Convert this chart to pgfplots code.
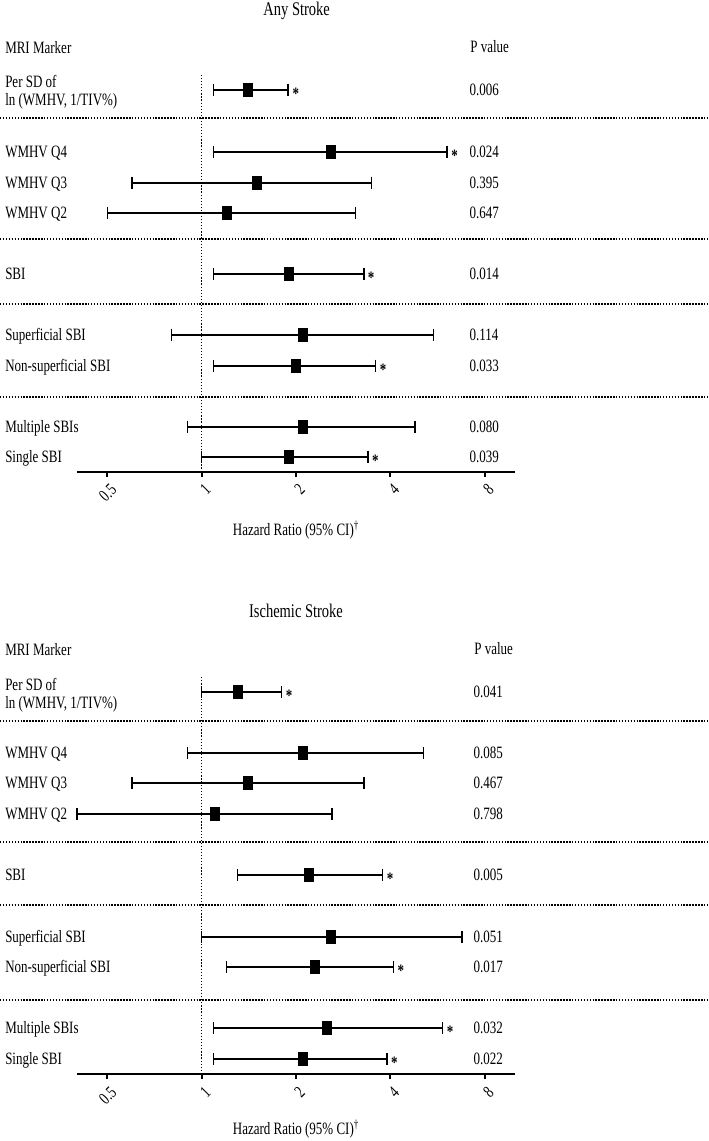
\documentclass[border=0pt]{standalone}
\usepackage{pgfplots}
\pgfplotsset{compat=1.18}
\usepackage{fontspec}
\setmainfont{Liberation Serif}[FakeStretch=0.75]
\newcommand\F{\fontsize{13}{14}\selectfont}
\newcommand\Ft{\fontsize{14.5}{16}\selectfont}
\pgfplotsset{
  ci/.style={black, line width=1.6pt, mark=|, mark size=4.5pt, mark options={line width=1.2pt, solid}},
  pt/.style={only marks, mark=square*, mark size=4.7pt, mark options={xscale=0.72, black, fill=black}},
}
\tikzset{
  star/.style={anchor=base west, inner sep=0pt, xshift=3pt, yshift=-7pt, font=\F\bfseries},
  vdot/.style={black, line width=0.8pt, dash pattern=on 0.9pt off 1.4pt},
  sep/.style={black, line width=1.3pt, dash pattern=on 1.1pt off 1.1pt},
  lab/.style={anchor=base west, inner sep=0pt, font=\F},
}
\newcommand\lab[2]{\node[lab] at (-72,{#1-5.7}) {#2};}
\newcommand\pv[3]{\node[lab] at (#1,{#2-5.7}) {#3};}
\begin{document}
\begin{tikzpicture}
\path[use as bounding box] (0,0) rectangle (531.75pt,-855.75pt);
% ---------------- Panel 1: Any Stroke ----------------
\begin{axis}[
  at={(57.75pt,-353.775pt)}, anchor=south west,
  scale only axis, width=328.5pt, height=298.5pt,
  xmode=log, log basis x=2, xmin=0.4, xmax=10, ymin=0, ymax=398,
  axis x line=bottom, axis y line=none,
  axis line style={line width=1.6pt, -},
  xtick={0.5,1,2,4,8}, xticklabels={0.5,1,2,4,8},
  minor xtick={},
  tick style={line width=1.3pt, black},
  xtick align=outside, major tick length=4pt,
  xticklabel style={rotate=45, anchor=north east, font=\F, inner sep=1pt, yshift=-3pt, xshift=-1pt},
  clip=false]
\draw[vdot] (axis cs:1,0) -- (axis cs:1,398);
\addplot[ci] coordinates {(1.09,382) (1.89,382)};
\addplot[ci] coordinates {(1.09,320) (6.07,320)};
\addplot[ci] coordinates {(0.60,289) (3.48,289)};
\addplot[ci] coordinates {(0.50,259) (3.10,259)};
\addplot[ci] coordinates {(1.09,198) (3.29,198)};
\addplot[ci] coordinates {(0.80,137) (5.49,137)};
\addplot[ci] coordinates {(1.09,106) (3.59,106)};
\addplot[ci] coordinates {(0.90,45) (4.80,45)};
\addplot[ci] coordinates {(1.00,15) (3.39,15)};
\addplot[pt] coordinates {(1.40,382) (2.59,320) (1.50,289) (1.20,259) (1.90,198) (2.10,137) (2.00,106) (2.10,45) (1.90,15)};
\node[star] at (axis cs:1.89,382) {*};
\node[star] at (axis cs:6.07,320) {*};
\node[star] at (axis cs:3.29,198) {*};
\node[star] at (axis cs:3.59,106) {*};
\node[star] at (axis cs:3.39,15) {*};
\end{axis}
\begin{scope}[shift={(57.75pt,-353.775pt)}, x=0.75pt, y=0.75pt]
\node[font=\Ft, inner sep=0pt] at (219.7,460.5) {Any Stroke};
\lab{423.7}{MRI Marker}
\pv{393}{424.7}{P value}
\node[lab] at (-72,384.3) {Per SD of};
\node[lab] at (-72,366) {ln (WMHV, 1/TIV\%)};
\lab{320}{WMHV Q4}
\lab{289}{WMHV Q3}
\lab{259}{WMHV Q2}
\lab{198}{SBI}
\lab{137}{Superficial SBI}
\lab{106}{Non-superficial SBI}
\lab{45}{Multiple SBIs}
\lab{15}{Single SBI}
\pv{392.3}{382}{0.006}
\pv{392.3}{320}{0.024}
\pv{392.3}{289}{0.395}
\pv{392.3}{259}{0.647}
\pv{392.3}{198}{0.014}
\pv{392.3}{137}{0.114}
\pv{392.3}{106}{0.033}
\pv{392.3}{45}{0.080}
\pv{392.3}{15}{0.039}
\draw[sep] (-77,353.4) -- (632,353.4);
\draw[sep] (-77,232.4) -- (632,232.4);
\draw[sep] (-77,167.7) -- (632,167.7);
\draw[sep] (-77,74.4) -- (632,74.4);
\node[lab, anchor=base] at (219,-63.5) {Hazard Ratio (95\% CI)\textsuperscript{\textdagger}};
\end{scope}
% ---------------- Panel 2: Ischemic Stroke ----------------
\begin{axis}[
  at={(57.75pt,-805.5pt)}, anchor=south west,
  scale only axis, width=328.5pt, height=298.5pt,
  xmode=log, log basis x=2, xmin=0.4, xmax=10, ymin=0, ymax=398,
  axis x line=bottom, axis y line=none,
  axis line style={line width=1.6pt, -},
  xtick={0.5,1,2,4,8}, xticklabels={0.5,1,2,4,8},
  minor xtick={},
  tick style={line width=1.3pt, black},
  xtick align=outside, major tick length=4pt,
  xticklabel style={rotate=45, anchor=north east, font=\F, inner sep=1pt, yshift=-3pt, xshift=-1pt},
  clip=false]
\draw[vdot] (axis cs:1,0) -- (axis cs:1,398);
\addplot[ci] coordinates {(1.00,382) (1.80,382)};
\addplot[ci] coordinates {(0.90,321) (5.10,321)};
\addplot[ci] coordinates {(0.60,291) (3.29,291)};
\addplot[ci] coordinates {(0.40,260) (2.60,260)};
\addplot[ci] coordinates {(1.30,199) (3.78,199)};
\addplot[ci] coordinates {(1.00,137) (6.77,137)};
\addplot[ci] coordinates {(1.20,107) (4.09,107)};
\addplot[ci] coordinates {(1.09,46) (5.87,46)};
\addplot[ci] coordinates {(1.09,15) (3.90,15)};
\addplot[pt] coordinates {(1.30,382) (2.10,321) (1.40,291) (1.10,260) (2.20,199) (2.59,137) (2.29,107) (2.50,46) (2.10,15)};
\node[star] at (axis cs:1.80,382) {*};
\node[star] at (axis cs:3.78,199) {*};
\node[star] at (axis cs:4.09,107) {*};
\node[star] at (axis cs:5.87,46) {*};
\node[star] at (axis cs:3.90,15) {*};
\end{axis}
\begin{scope}[shift={(57.75pt,-805.5pt)}, x=0.75pt, y=0.75pt]
\node[font=\Ft, inner sep=0pt] at (219,463) {Ischemic Stroke};
\lab{424}{MRI Marker}
\pv{397}{425}{P value}
\node[lab] at (-72,384) {Per SD of};
\node[lab] at (-72,365.6) {ln (WMHV, 1/TIV\%)};
\lab{321}{WMHV Q4}
\lab{291}{WMHV Q3}
\lab{260}{WMHV Q2}
\lab{199}{SBI}
\lab{137}{Superficial SBI}
\lab{107}{Non-superficial SBI}
\lab{46}{Multiple SBIs}
\lab{15}{Single SBI}
\pv{396.3}{382}{0.041}
\pv{396.3}{321}{0.085}
\pv{396.3}{291}{0.467}
\pv{396.3}{260}{0.798}
\pv{396.3}{199}{0.005}
\pv{396.3}{137}{0.051}
\pv{396.3}{107}{0.017}
\pv{396.3}{46}{0.032}
\pv{396.3}{15}{0.022}
\draw[sep] (-77,353.3) -- (632,353.3);
\draw[sep] (-77,232.3) -- (632,232.3);
\draw[sep] (-77,169) -- (632,169);
\draw[sep] (-77,74) -- (632,74);
\node[lab, anchor=base] at (219,-60.5) {Hazard Ratio (95\% CI)\textsuperscript{\textdagger}};
\end{scope}
\end{tikzpicture}
\end{document}
